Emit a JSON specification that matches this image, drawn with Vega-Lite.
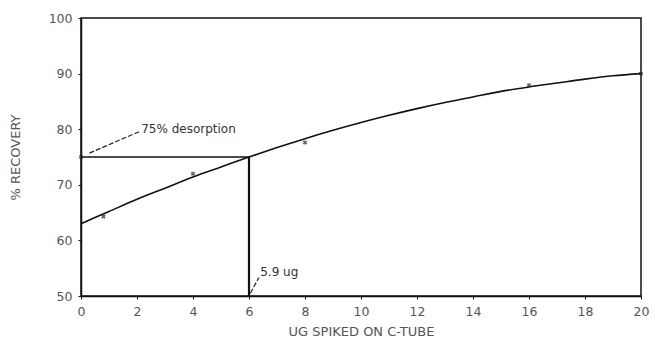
{
  "$schema": "https://vega.github.io/schema/vega-lite/v6.json",
  "width": 560,
  "height": 278,
  "autosize": {"type": "none"},
  "padding": {"left": 81, "top": 18, "right": 14, "bottom": 53},
  "background": "white",
  "config": {
    "view": {"stroke": "#111", "strokeWidth": 1.5},
    "font": "DejaVu Sans",
    "axis": {"grid": false, "domainColor": "#111", "domainWidth": 1.5, "tickColor": "#111", "tickSize": 3, "labelColor": "#555", "labelFontSize": 12.5, "titleColor": "#555", "titleFontSize": 13, "titleFontWeight": "normal", "labelFlush": false}
  },
  "datasets": {
    "curve": [
      {"x": 0, "y": 63.0}, {"x": 1, "y": 65.2}, {"x": 2, "y": 67.4}, {"x": 3, "y": 69.4},
      {"x": 4, "y": 71.4}, {"x": 5, "y": 73.2}, {"x": 6, "y": 75.0}, {"x": 7, "y": 76.7},
      {"x": 8, "y": 78.3}, {"x": 9, "y": 79.8}, {"x": 10, "y": 81.2}, {"x": 11, "y": 82.5},
      {"x": 12, "y": 83.7}, {"x": 13, "y": 84.8}, {"x": 14, "y": 85.8}, {"x": 15, "y": 86.8},
      {"x": 16, "y": 87.6}, {"x": 17, "y": 88.3}, {"x": 18, "y": 89.0}, {"x": 19, "y": 89.6},
      {"x": 20, "y": 90.0}
    ],
    "pts": [
      {"x": 0.8, "y": 64.3}, {"x": 4, "y": 72.0}, {"x": 8, "y": 77.6}, {"x": 16, "y": 87.9}, {"x": 20, "y": 90.0}, {"x": 0, "y": 75.0}
    ],
    "guide": [
      {"x": 0, "y": 75, "g": "h", "o": 1}, {"x": 6, "y": 75, "g": "h", "o": 2}
    ],
    "vguide": [
      {"x": 6, "y": 75, "g": "v", "o": 1}, {"x": 6, "y": 50, "g": "v", "o": 2}
    ],
    "leaders": [
      {"x": 0.3, "y": 75.7, "g": "a", "o": 1}, {"x": 2.1, "y": 79.6, "g": "a", "o": 2},
      {"x": 6.05, "y": 50.5, "g": "b", "o": 1}, {"x": 6.35, "y": 53.3, "g": "b", "o": 2}
    ],
    "labels": [
      {"x": 2.15, "y": 80, "t": "75% desorption"},
      {"x": 6.4, "y": 54.3, "t": "5.9 ug"}
    ]
  },
  "layer": [
    {
      "data": {"name": "curve"},
      "mark": {"type": "line", "color": "#111", "strokeWidth": 1.6, "interpolate": "monotone"},
      "encoding": {
        "x": {"field": "x", "type": "quantitative", "scale": {"domain": [0, 20]}, "axis": {"values": [0,2,4,6,8,10,12,14,16,18,20], "title": "UG SPIKED ON C-TUBE", "titlePadding": 8, "labelPadding": 6}},
        "y": {"field": "y", "type": "quantitative", "scale": {"domain": [50, 100]}, "axis": {"values": [50,60,70,80,90,100], "title": "% RECOVERY", "titlePadding": 26, "labelPadding": 6}}
      }
    },
    {
      "data": {"name": "guide"},
      "mark": {"type": "line", "color": "#111", "strokeWidth": 1.5},
      "encoding": {
        "x": {"field": "x", "type": "quantitative"},
        "y": {"field": "y", "type": "quantitative"},
        "order": {"field": "o"}
      }
    },
    {
      "data": {"name": "vguide"},
      "mark": {"type": "line", "color": "#111", "strokeWidth": 2.2},
      "encoding": {
        "x": {"field": "x", "type": "quantitative"},
        "y": {"field": "y", "type": "quantitative"},
        "order": {"field": "o"}
      }
    },
    {
      "data": {"name": "leaders"},
      "mark": {"type": "line", "color": "#222", "strokeWidth": 1.2, "strokeDash": [5, 2]},
      "encoding": {
        "x": {"field": "x", "type": "quantitative"},
        "y": {"field": "y", "type": "quantitative"},
        "detail": {"field": "g"},
        "order": {"field": "o"}
      }
    },
    {
      "data": {"name": "pts"},
      "mark": {"type": "point", "shape": "cross", "size": 20, "color": "#222", "filled": true, "angle": 45},
      "encoding": {
        "x": {"field": "x", "type": "quantitative"},
        "y": {"field": "y", "type": "quantitative"}
      }
    },
    {
      "data": {"name": "labels"},
      "mark": {"type": "text", "align": "left", "baseline": "middle", "fontSize": 12, "color": "#333"},
      "encoding": {
        "x": {"field": "x", "type": "quantitative"},
        "y": {"field": "y", "type": "quantitative"},
        "text": {"field": "t"}
      }
    }
  ]
}
